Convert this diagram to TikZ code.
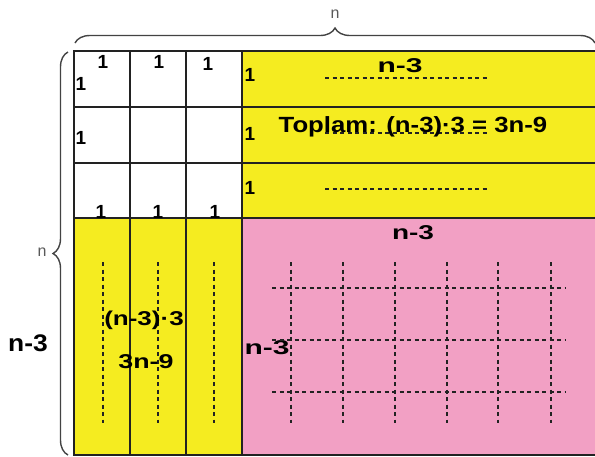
\documentclass[tikz,border=0pt]{standalone}
\usepackage{fontspec}
\setmainfont{Liberation Sans}
\usetikzlibrary{decorations.pathreplacing}
\definecolor{yel}{RGB}{245,236,32}
\definecolor{pnk}{RGB}{242,160,196}
\definecolor{ink}{RGB}{34,34,34}
\begin{document}
\begin{tikzpicture}[x=1pt,y=-1pt,
  gridline/.style={draw=ink,line width=2pt},
  dl/.style={draw=ink,line width=1.3pt,dash pattern=on 4pt off 3.5pt},
  hand/.style={font=\bfseries\fontsize{20}{20}\selectfont,text=black,inner sep=0pt},
  one/.style={font=\bfseries\fontsize{19}{19}\selectfont,text=black,inner sep=0pt},
  brc/.style={draw=ink!85,line width=1.4pt,decorate,decoration={brace,amplitude=15pt}},
  blab/.style={text=ink!75,font=\fontsize{16}{16}\selectfont,inner sep=0pt}]
\useasboundingbox (0,0) rectangle (595,456);
% fills
\fill[yel] (242,51) rectangle (595,218);
\fill[yel] (74,218) rectangle (242,455);
\fill[pnk] (242,218) rectangle (595,455);
% grid
\foreach \y in {51,107,163,218,455} \draw[gridline] (73,\y) -- (595,\y);
\foreach \x in {74,130,186,242} \draw[gridline] (\x,50) -- (\x,456);
% braces
\draw[brc] (75,43) -- (595,43);
\node[blab] (topn) at (335,14) {n};
\draw[brc] (68,455) -- (68,52);
\node[blab] (leftn) at (42,252) {n};
% ones
\node[one] (o1) at (103,62) {1};
\node[one] (o2) at (159,62) {1};
\node[one] (o3) at (208,64) {1};
\node[one] (o4) at (81,84) {1};
\node[one] (o5) at (81,138) {1};
\node[one] (o6) at (101,212) {1};
\node[one] (o7) at (158,212) {1};
\node[one] (o8) at (215,212) {1};
\node[one] (o9) at (250,75) {1};
\node[one] (o10) at (250,134) {1};
\node[one] (o11) at (250,188) {1};
% yellow rows
\node[hand,xscale=1.5] (t1) at (400,66) {n-3};
\foreach \y in {78,133,189} \draw[dl] (325,\y) -- (488,\y);
\node[hand,font=\bfseries\fontsize{22}{22}\selectfont,xscale=1.17] (t2) at (413,127) {Toplam: (n-3)·3 = 3n-9};
% left columns
\foreach \x in {103,158,214} \draw[dl] (\x,262) -- (\x,423);
\node[hand,xscale=1.3] (t3) at (144,320) {(n-3)·3};
\node[hand,xscale=1.34] (t4) at (146,362) {3n-9};
\node[hand,font=\bfseries\fontsize{24}{24}\selectfont,xscale=1.1] (t5) at (28,343) {n-3};
% pink
\node[hand,xscale=1.4] (t6) at (413,233) {n-3};
\node[hand,xscale=1.5] (t7) at (267,348) {n-3};
\foreach \x in {291,343,395,447,498,551} \draw[dl] (\x,262) -- (\x,423);
\foreach \y in {288,340,392} \draw[dl] (272,\y) -- (566,\y);
\end{tikzpicture}
\end{document}
